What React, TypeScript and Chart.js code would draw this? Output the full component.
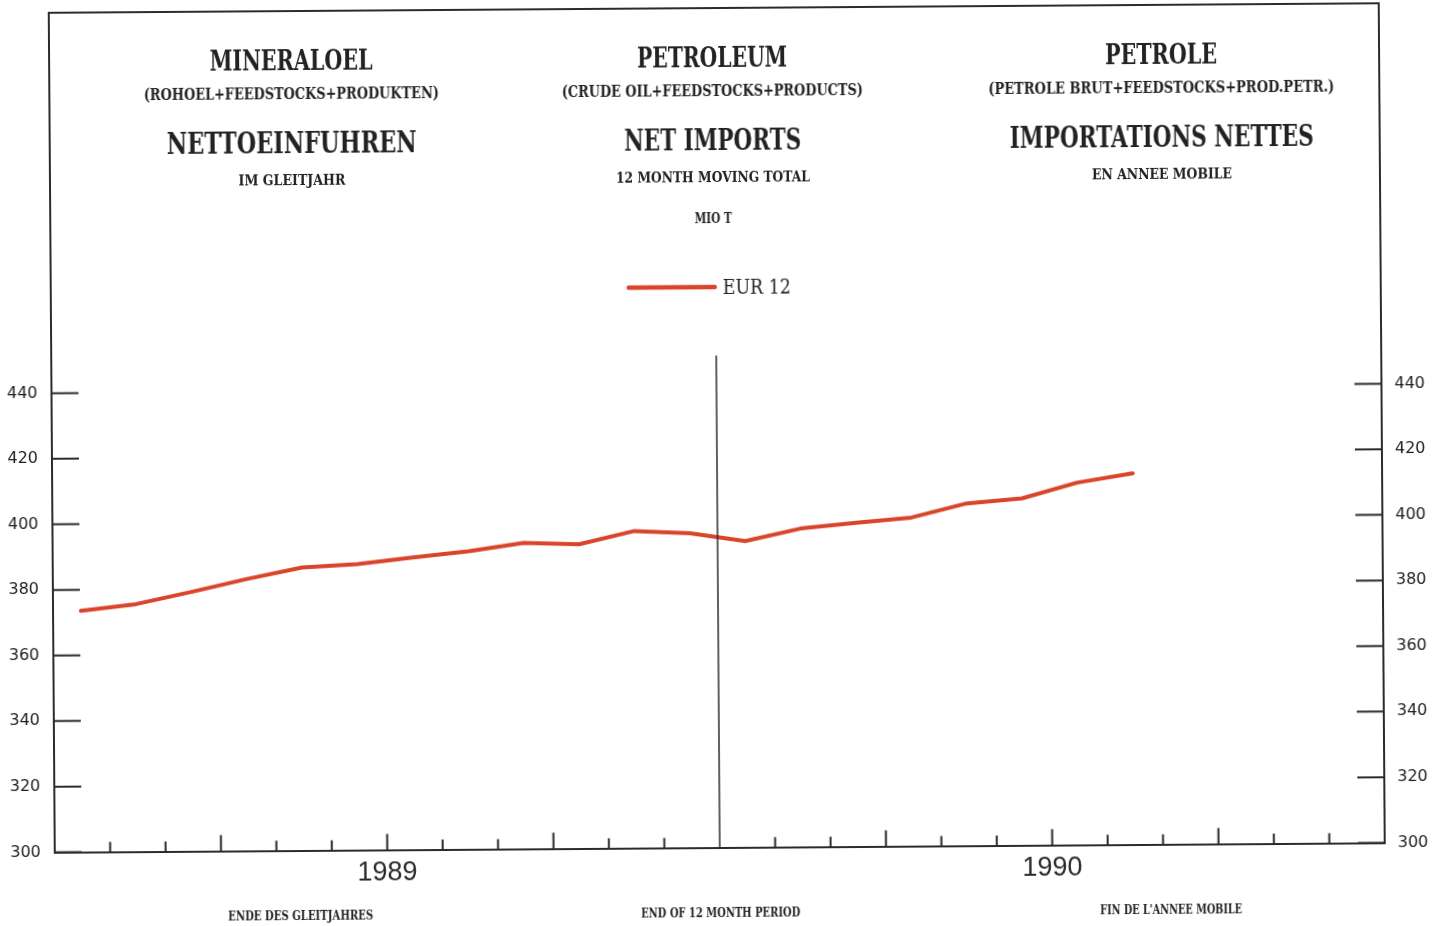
import React, { useEffect, useRef } from 'react';
import { Chart, registerables } from 'chart.js';

Chart.register(...registerables);

// ---------- data ----------
const MONTHS = [
  'JAN 1989', 'FEB 1989', 'MAR 1989', 'APR 1989', 'MAY 1989', 'JUN 1989',
  'JUL 1989', 'AUG 1989', 'SEP 1989', 'OCT 1989', 'NOV 1989', 'DEC 1989',
  'JAN 1990', 'FEB 1990', 'MAR 1990', 'APR 1990', 'MAY 1990', 'JUN 1990',
  'JUL 1990', 'AUG 1990',
];
const EUR12 = [
  373.6, 375.5, 379.1, 382.9, 386.3, 387.2, 389.1, 390.9, 393.3, 392.8,
  396.7, 395.9, 393.4, 397.1, 398.7, 400.2, 404.4, 405.8, 410.5, 413.2,
];
const SERIES_LABEL = 'EUR 12';
const YEARS = ['1989', '1990'];
const Y_TICKS = [300, 320, 340, 360, 380, 400, 420, 440];
const MONTH_BOUNDARIES = [0, 1, 2, 3, 4, 5, 6, 7, 8, 9, 10, 11, 12, 13, 14, 15, 16, 17, 18, 19, 20, 21, 22, 23, 24];
const Y_MIN = 300;
const Y_MAX = 556;
const DIVIDER_TOP = 450;

const TITLE_DE = ['MINERALOEL', '(ROHOEL+FEEDSTOCKS+PRODUKTEN)', 'NETTOEINFUHREN', 'IM GLEITJAHR'];
const TITLE_EN = ['PETROLEUM', '(CRUDE OIL+FEEDSTOCKS+PRODUCTS)', 'NET IMPORTS', '12 MONTH MOVING TOTAL', 'MIO T'];
const TITLE_FR = ['PETROLE', '(PETROLE BRUT+FEEDSTOCKS+PROD.PETR.)', 'IMPORTATIONS NETTES', 'EN ANNEE MOBILE'];
const AXIS_CAPTIONS = ['ENDE DES GLEITJAHRES', 'END OF 12 MONTH PERIOD', "FIN DE L'ANNEE MOBILE"];

// ---------- styles / layout ----------
const LINE_COLOR = '#d9442a';
const AXIS_COLOR = '#2b2b2b';
const TEXT_COLOR = '#222222';
const SERIF = '"DejaVu Serif", serif';

const ROW_Y = [57, 90.5, 139, 176.5, 218];
const ROW_SIZE = [27, 16, 29, 15, 15];
const COLUMNS = [
  { cx: 294, lines: TITLE_DE, widths: [163, 295, 250, 107] },
  { cx: 715, lines: TITLE_EN, widths: [150, 301, 177, 194, 37] },
  { cx: 1164, lines: TITLE_FR, widths: [112, 346, 304, 140] },
];
const CAPTION_LAYOUT = [
  { cx: 297.5, w: 145 },
  { cx: 717.5, w: 159 },
  { cx: 1168, w: 142 },
];
const CAPTION_Y = 912;

function fitText(
  ctx: CanvasRenderingContext2D,
  text: string,
  x: number,
  cy: number,
  size: number,
  weight: string,
  width: number,
  align: CanvasTextAlign,
) {
  ctx.save();
  ctx.font = `${weight} ${size}px ${SERIF}`;
  const w = ctx.measureText(text).width;
  const s = w > 0 ? width / w : 1;
  ctx.translate(x, cy + size * 0.365);
  ctx.scale(s, 1);
  ctx.textAlign = align;
  ctx.textBaseline = 'alphabetic';
  ctx.fillStyle = TEXT_COLOR;
  ctx.fillText(text, 0, 0);
  ctx.restore();
}

const decorPlugin = {
  id: 'decor',
  afterDraw(chart: any) {
    const ctx: CanvasRenderingContext2D = chart.ctx;
    const { left, right, top, bottom } = chart.chartArea;
    const xs = chart.scales.x;
    const ys = chart.scales.y;
    const ys2 = chart.scales.y2;

    ctx.save();
    ctx.strokeStyle = AXIS_COLOR;
    ctx.lineWidth = 2;
    ctx.lineCap = 'butt';

    // top frame
    ctx.beginPath();
    ctx.moveTo(left - 1, top);
    ctx.lineTo(right + 1, top);
    ctx.stroke();

    // inward y ticks
    ctx.beginPath();
    ys.ticks.forEach((t: any) => {
      const py = ys.getPixelForValue(t.value);
      ctx.moveTo(left, py);
      ctx.lineTo(left + 27, py);
    });
    ys2.ticks.forEach((t: any) => {
      const py = ys2.getPixelForValue(t.value);
      ctx.moveTo(right - 27, py);
      ctx.lineTo(right, py);
    });
    // inward month ticks
    MONTH_BOUNDARIES.forEach((m) => {
      if (m === 0 || m === 24 || m === 12) return;
      const px = xs.getPixelForValue(m);
      const len = m % 3 === 0 ? 16 : 10;
      ctx.moveTo(px, bottom);
      ctx.lineTo(px, bottom - len);
    });
    ctx.stroke();

    // year divider
    ctx.lineWidth = 1.5;
    ctx.beginPath();
    const dx = xs.getPixelForValue(12);
    ctx.moveTo(dx, bottom);
    ctx.lineTo(dx, ys.getPixelForValue(DIVIDER_TOP));
    ctx.stroke();
    ctx.restore();

    // headers
    COLUMNS.forEach((col) => {
      col.lines.forEach((line, i) => {
        fitText(ctx, line, col.cx, ROW_Y[i], ROW_SIZE[i], 'bold', col.widths[i], 'center');
      });
    });

    // legend
    const ds = chart.data.datasets[0];
    ctx.save();
    ctx.strokeStyle = ds.borderColor;
    ctx.lineWidth = 4.5;
    ctx.lineCap = 'round';
    ctx.beginPath();
    ctx.moveTo(630, 287);
    ctx.lineTo(716, 287);
    ctx.stroke();
    ctx.restore();
    fitText(ctx, ds.label, 724, 287, 20, 'normal', 68, 'left');

    // bottom captions
    AXIS_CAPTIONS.forEach((c, i) => {
      fitText(ctx, c, CAPTION_LAYOUT[i].cx, CAPTION_Y, 13, 'bold', CAPTION_LAYOUT[i].w, 'center');
    });
  },
};

export default function App() {
  const ref = useRef<HTMLCanvasElement | null>(null);

  useEffect(() => {
    if (!ref.current) return;
    const points = MONTHS.map((_, i) => ({ x: i + 0.5, y: EUR12[i] }));
    const yAxis = (position: 'left' | 'right', width: number, padding: number) => ({
      type: 'linear' as const,
      position,
      min: Y_MIN,
      max: Y_MAX,
      afterBuildTicks: (s: any) => {
        s.ticks = Y_TICKS.map((v) => ({ value: v }));
      },
      afterFit: (s: any) => {
        s.width = width;
        s.paddingTop = 0;
        s.paddingBottom = 0;
      },
      grid: { display: false, drawTicks: false },
      border: { display: true, color: AXIS_COLOR, width: 2 },
      ticks: {
        padding,
        color: '#1e1e1e',
        font: { family: '"DejaVu Sans", sans-serif', size: 16 },
      },
    });

    const chart = new Chart(ref.current, {
      type: 'line',
      data: {
        datasets: [
          {
            label: SERIES_LABEL,
            data: points,
            borderColor: LINE_COLOR,
            backgroundColor: LINE_COLOR,
            borderWidth: 4,
            pointRadius: 0,
            tension: 0,
            borderCapStyle: 'round',
            borderJoinStyle: 'round',
          },
        ],
      },
      options: {
        animation: false,
        responsive: false,
        maintainAspectRatio: false,
        layout: { padding: { top: 8, left: 0, right: 0, bottom: 0 } },
        plugins: {
          legend: { display: false },
          tooltip: { enabled: false },
          title: { display: false },
        },
        scales: {
          x: {
            type: 'linear',
            min: 0,
            max: 24,
            afterBuildTicks: (s: any) => {
              s.ticks = MONTH_BOUNDARIES.map((v) => ({ value: v }));
            },
            afterFit: (s: any) => {
              s.height = 78.5;
              s.paddingLeft = 0;
              s.paddingRight = 0;
            },
            grid: { display: false, drawTicks: false },
            border: { display: true, color: AXIS_COLOR, width: 2 },
            ticks: {
              autoSkip: false,
              maxRotation: 0,
              padding: 7,
              color: '#2a2a2a',
              font: { family: '"Liberation Sans", sans-serif', size: 27 },
              callback: (v: any) => {
                const n = Number(v);
                const idx = (n - 6) / 12;
                return Number.isInteger(idx) && YEARS[idx] ? YEARS[idx] : '';
              },
            },
          },
          y: yAxis('left', 52, 14),
          y2: yAxis('right', 61, 13),
        },
      } as any,
      plugins: [decorPlugin],
    });
    return () => chart.destroy();
  }, []);

  return (
    <div
      style={{
        position: 'fixed',
        left: 0,
        top: 0,
        width: 1443,
        height: 926,
        background: '#fff',
        transform: 'rotate(-0.41deg)',
        transformOrigin: '50% 50%',
      }}
    >
      <canvas ref={ref} width={1443} height={926} style={{ display: 'block' }} />
    </div>
  );
}
